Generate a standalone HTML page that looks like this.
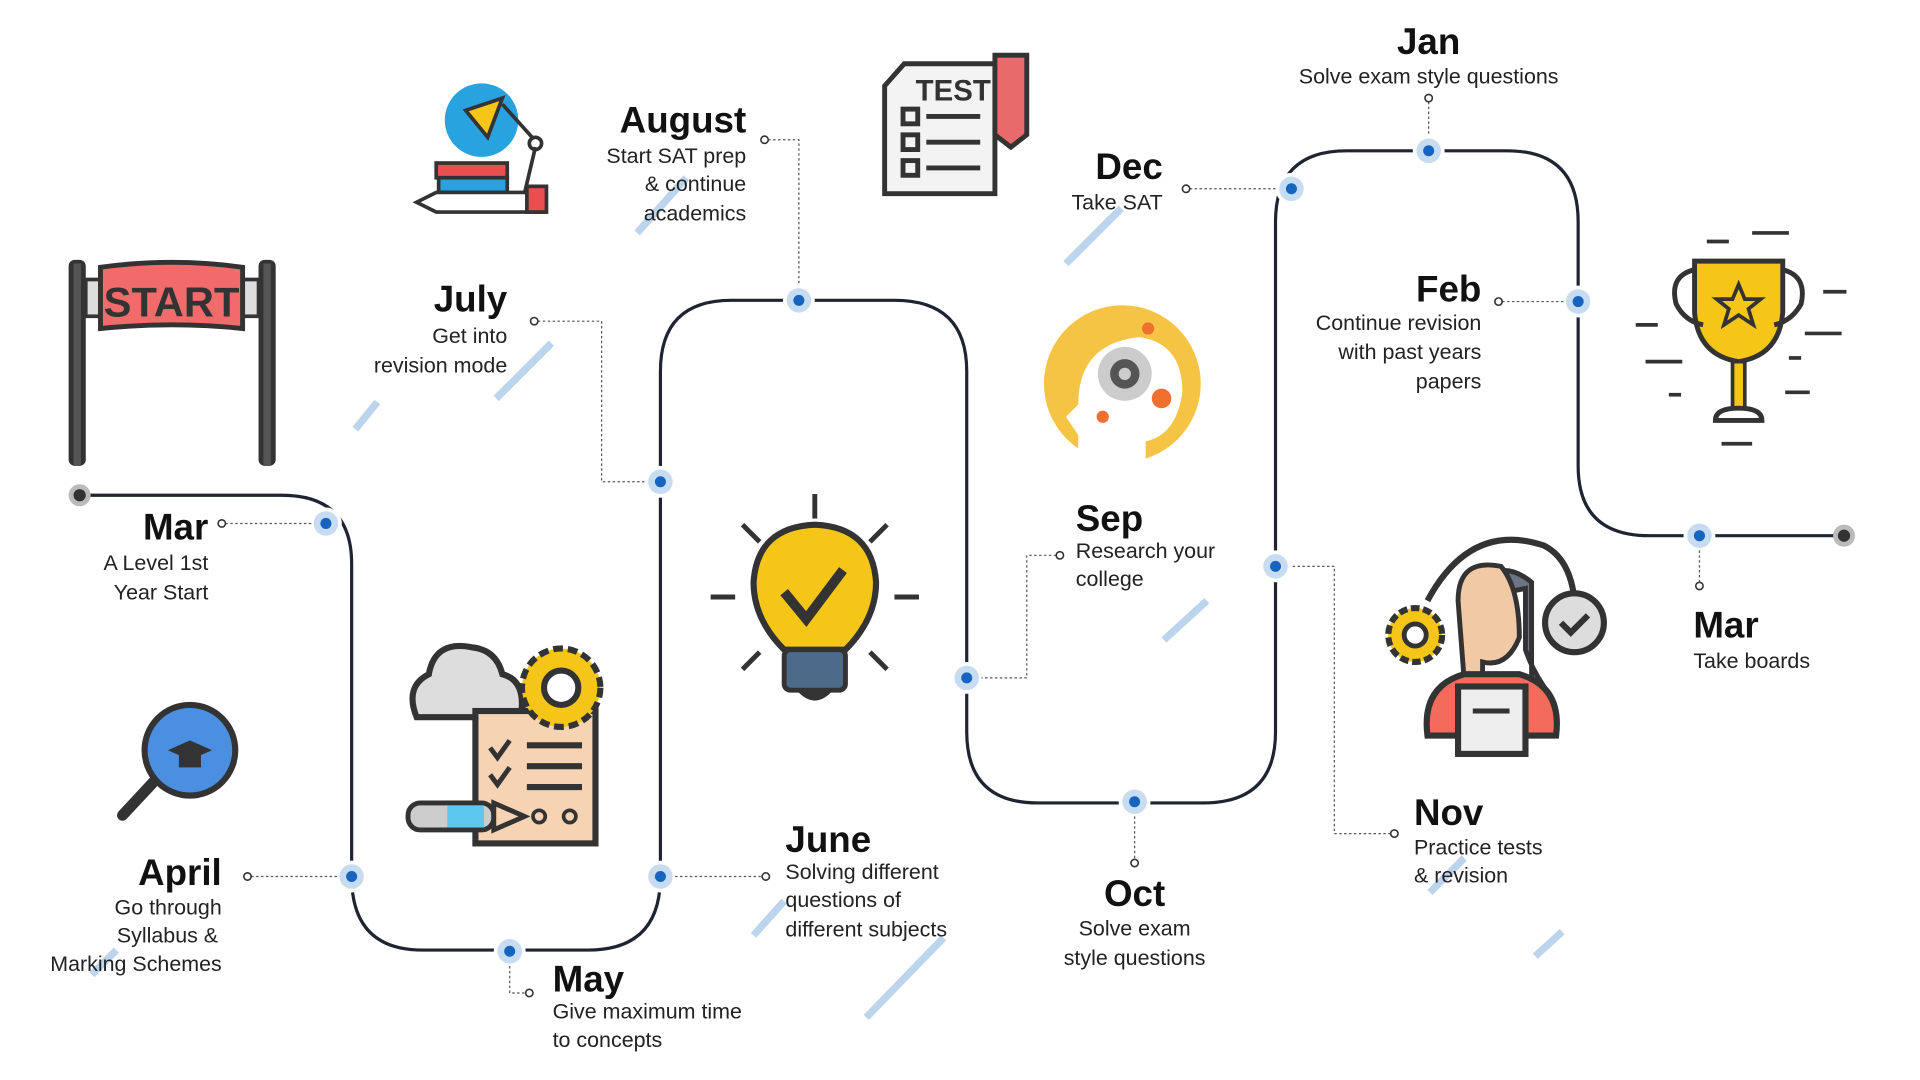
<!DOCTYPE html>
<html><head><meta charset="utf-8"><style>
html,body{margin:0;padding:0;background:#fff;width:1920px;height:1080px;overflow:hidden}
svg{display:block}
.h{font-family:"Liberation Sans",sans-serif;font-weight:bold;font-size:30px;fill:#111}
.t{font-family:"Liberation Sans",sans-serif;font-size:17.5px;fill:#222}
.d{stroke:#555;stroke-width:1;stroke-dasharray:2 2;fill:none}
.o{fill:#fff;stroke:#333;stroke-width:1.3}
.s{stroke:#bcd4ec;stroke-width:6;stroke-linecap:butt}
</style></head><body>
<svg width="1920" height="1080" viewBox="0 0 1567 881" preserveAspectRatio="none">
<g class="s">
<line x1="290" y1="350" x2="308" y2="328"/><line x1="405" y1="325" x2="450" y2="280"/>
<line x1="520" y1="190" x2="560" y2="145"/><line x1="870" y1="215" x2="915" y2="170"/>
<line x1="950" y1="522" x2="985" y2="490"/><line x1="615" y1="763" x2="640" y2="735"/>
<line x1="707" y1="830" x2="770" y2="765"/><line x1="1167" y1="728" x2="1195" y2="700"/>
<line x1="1253" y1="780" x2="1275" y2="760"/><line x1="75" y1="795" x2="95" y2="775"/>
</g>
<path d="M65,404 H230 Q287,404 287,460 V715 Q287,775 345,775 H480 Q539,775 539,715 V303 Q539,245 597,245 H730 Q789,245 789,303 V597 Q789,655 847,655 H982 Q1041,655 1041,597 V181 Q1041,123 1099,123 H1230 Q1288,123 1288,181 V380 Q1288,437 1346,437 H1505" fill="none" stroke="#1f2433" stroke-width="2.6"/>
<circle cx="65" cy="404" r="9" fill="#bbb"/><circle cx="65" cy="404" r="5" fill="#333"/>
<circle cx="1505" cy="437" r="9" fill="#bbb"/><circle cx="1505" cy="437" r="5" fill="#333"/>
<g>
<g fill="#fff"><circle cx="266" cy="427" r="13"/><circle cx="287" cy="715" r="13"/><circle cx="416" cy="776" r="13"/><circle cx="539" cy="715" r="13"/><circle cx="539" cy="393" r="13"/><circle cx="652" cy="245" r="13"/><circle cx="789" cy="553" r="13"/><circle cx="926" cy="654" r="13"/><circle cx="1041" cy="462" r="13"/><circle cx="1054" cy="154" r="13"/><circle cx="1166" cy="123" r="13"/><circle cx="1288" cy="246" r="13"/><circle cx="1387" cy="437" r="13"/></g>
<g fill="#c7dcf0"><circle cx="266" cy="427" r="10"/><circle cx="287" cy="715" r="10"/><circle cx="416" cy="776" r="10"/><circle cx="539" cy="715" r="10"/><circle cx="539" cy="393" r="10"/><circle cx="652" cy="245" r="10"/><circle cx="789" cy="553" r="10"/><circle cx="926" cy="654" r="10"/><circle cx="1041" cy="462" r="10"/><circle cx="1054" cy="154" r="10"/><circle cx="1166" cy="123" r="10"/><circle cx="1288" cy="246" r="10"/><circle cx="1387" cy="437" r="10"/></g>
<g fill="#1565c0"><circle cx="266" cy="427" r="4.5"/><circle cx="287" cy="715" r="4.5"/><circle cx="416" cy="776" r="4.5"/><circle cx="539" cy="715" r="4.5"/><circle cx="539" cy="393" r="4.5"/><circle cx="652" cy="245" r="4.5"/><circle cx="789" cy="553" r="4.5"/><circle cx="926" cy="654" r="4.5"/><circle cx="1041" cy="462" r="4.5"/><circle cx="1054" cy="154" r="4.5"/><circle cx="1166" cy="123" r="4.5"/><circle cx="1288" cy="246" r="4.5"/><circle cx="1387" cy="437" r="4.5"/></g>
</g>
<path class="d" d="M184,427 H255 M205,715 H276 M416,788 V810 H429 M551,715 H622 M439,262 H491 V393 H528 M627,114 H652 V233 M862,453 H838 V553 H801 M926,666 V701 M1135,680 H1089 V462 H1053 M971,154 H1042 M1166,83 V111 M1226,246 H1277 M1387,449 V475"/>
<g class="o"><circle cx="181" cy="427" r="3"/><circle cx="202" cy="715" r="3"/><circle cx="432" cy="810" r="3"/><circle cx="625" cy="715" r="3"/><circle cx="436" cy="262" r="3"/><circle cx="624" cy="114" r="3"/><circle cx="865" cy="453" r="3"/><circle cx="926" cy="704" r="3"/><circle cx="1138" cy="680" r="3"/><circle cx="968" cy="154" r="3"/><circle cx="1166" cy="80" r="3"/><circle cx="1223" cy="246" r="3"/><circle cx="1387" cy="478" r="3"/></g>
<text class="h" x="170" y="440" text-anchor="end">Mar</text>
<text class="t" x="170" y="465" text-anchor="end">A Level 1st</text><text class="t" x="170" y="489" text-anchor="end">Year Start</text>
<text class="h" x="181" y="722" text-anchor="end">April</text>
<text class="t" x="181" y="746" text-anchor="end">Go through</text><text class="t" x="178" y="769" text-anchor="end">Syllabus &amp;</text><text class="t" x="181" y="792" text-anchor="end">Marking Schemes</text>
<text class="h" x="451" y="809">May</text>
<text class="t" x="451" y="831">Give maximum time</text><text class="t" x="451" y="854">to concepts</text>
<text class="h" x="641" y="695">June</text>
<text class="t" x="641" y="717">Solving different</text><text class="t" x="641" y="740">questions of</text><text class="t" x="641" y="764">different subjects</text>
<text class="h" x="414" y="254" text-anchor="end">July</text>
<text class="t" x="414" y="280" text-anchor="end">Get into</text><text class="t" x="414" y="304" text-anchor="end">revision mode</text>
<text class="h" x="609" y="108" text-anchor="end">August</text>
<text class="t" x="609" y="133" text-anchor="end">Start SAT prep</text><text class="t" x="609" y="156" text-anchor="end">&amp; continue</text><text class="t" x="609" y="180" text-anchor="end">academics</text>
<text class="h" x="878" y="433">Sep</text>
<text class="t" x="878" y="455">Research your</text><text class="t" x="878" y="478">college</text>
<text class="h" x="926" y="739" text-anchor="middle">Oct</text>
<text class="t" x="926" y="763" text-anchor="middle">Solve exam</text><text class="t" x="926" y="787" text-anchor="middle">style questions</text>
<text class="h" x="1154" y="673">Nov</text>
<text class="t" x="1154" y="697">Practice tests</text><text class="t" x="1154" y="720">&amp; revision</text>
<text class="h" x="949" y="146" text-anchor="end">Dec</text>
<text class="t" x="949" y="171" text-anchor="end">Take SAT</text>
<text class="h" x="1166" y="44" text-anchor="middle">Jan</text>
<text class="t" x="1166" y="68" text-anchor="middle">Solve exam style questions</text>
<text class="h" x="1209" y="246" text-anchor="end">Feb</text>
<text class="t" x="1209" y="269" text-anchor="end">Continue revision</text><text class="t" x="1209" y="293" text-anchor="end">with past years</text><text class="t" x="1209" y="317" text-anchor="end">papers</text>
<text class="h" x="1382" y="520">Mar</text>
<text class="t" x="1382" y="545">Take boards</text>
<rect x="56" y="212" width="14" height="168" rx="5" fill="#333"/><rect x="60" y="215" width="6" height="165" fill="#555"/>
<rect x="211" y="212" width="14" height="168" rx="5" fill="#333"/><rect x="215" y="215" width="6" height="165" fill="#555"/>
<rect x="70" y="228" width="12" height="30" fill="#ddd" stroke="#333" stroke-width="3"/><rect x="198" y="228" width="13" height="30" fill="#ddd" stroke="#333" stroke-width="3"/>
<path d="M82,218 Q140,210 198,218 V268 Q140,262 82,268 Z" fill="#f26b6b" stroke="#333" stroke-width="4"/>
<text x="140" y="258" text-anchor="middle" font-family="Liberation Sans,sans-serif" font-weight="bold" font-size="34" fill="#333">START</text>
<line x1="100" y1="665" x2="128" y2="635" stroke="#333" stroke-width="9" stroke-linecap="round"/>
<circle cx="155" cy="612" r="37" fill="#4a8fe0" stroke="#333" stroke-width="5"/>
<path d="M137,612 L155,604 L173,612 L155,620 Z" fill="#333"/><rect x="146" y="614" width="18" height="12" fill="#333"/>
<path d="M340,585 Q330,560 350,550 Q355,522 385,528 Q405,530 410,550 Q430,555 425,585 Z" fill="#ddd" stroke="#333" stroke-width="5"/>
<rect x="388" y="580" width="98" height="108" fill="#f6d3b3" stroke="#333" stroke-width="5"/>
<circle cx="458" cy="561" r="32" fill="#f5c518" stroke="#333" stroke-width="5" stroke-dasharray="8 4"/><circle cx="458" cy="561" r="14" fill="#fff" stroke="#333" stroke-width="5"/>
<g stroke="#333" stroke-width="5"><line x1="430" y1="608" x2="475" y2="608"/><line x1="430" y1="625" x2="475" y2="625"/><line x1="430" y1="642" x2="475" y2="642"/></g>
<path d="M400,610 l6,8 l10,-14 M400,632 l6,8 l10,-14" stroke="#333" stroke-width="4" fill="none"/>
<rect x="333" y="655" width="70" height="22" rx="10" fill="#ccc" stroke="#333" stroke-width="4"/><rect x="365" y="657" width="30" height="18" fill="#5ec7f0"/><path d="M403,655 L428,666 L403,677 Z" fill="#f6d3b3" stroke="#333" stroke-width="4"/>
<circle cx="440" cy="666" r="5" fill="none" stroke="#333" stroke-width="3"/><circle cx="465" cy="666" r="5" fill="none" stroke="#333" stroke-width="3"/>
<circle cx="393" cy="98" r="30" fill="#28a3e0"/>
<path d="M380,90 L410,80 L398,112 Z" fill="#f5c518" stroke="#333" stroke-width="3"/>
<line x1="410" y1="85" x2="437" y2="115" stroke="#333" stroke-width="3"/><circle cx="437" cy="117" r="5" fill="#fff" stroke="#333" stroke-width="3"/><line x1="437" y1="120" x2="428" y2="158" stroke="#333" stroke-width="3"/>
<rect x="356" y="133" width="58" height="12" fill="#e94f4f" stroke="#333" stroke-width="3"/><rect x="358" y="145" width="56" height="12" fill="#28a3e0" stroke="#333" stroke-width="3"/>
<path d="M340,165 L356,157 H444 V173 H356 Z" fill="#fff" stroke="#333" stroke-width="3"/><rect x="430" y="152" width="16" height="21" fill="#e94f4f" stroke="#333" stroke-width="3"/>
<path d="M738,52 H812 V158 H722 V70 Z" fill="#f3f3f3" stroke="#333" stroke-width="4"/>
<text x="778" y="82" text-anchor="middle" font-family="Liberation Sans,sans-serif" font-weight="bold" font-size="24" fill="#333">TEST</text>
<g stroke="#333" stroke-width="4" fill="none"><rect x="737" y="89" width="12" height="12"/><rect x="737" y="110" width="12" height="12"/><rect x="737" y="131" width="12" height="12"/><line x1="756" y1="95" x2="800" y2="95"/><line x1="756" y1="116" x2="800" y2="116"/><line x1="756" y1="137" x2="800" y2="137"/></g>
<path d="M812,45 H838 V110 L825,120 L812,110 Z" fill="#e96a6a" stroke="#333" stroke-width="4"/>
<g stroke="#333" stroke-width="4"><line x1="665" y1="403" x2="665" y2="423"/><line x1="606" y1="428" x2="620" y2="442"/><line x1="724" y1="428" x2="710" y2="442"/><line x1="580" y1="487" x2="600" y2="487"/><line x1="730" y1="487" x2="750" y2="487"/><line x1="606" y1="546" x2="620" y2="532"/><line x1="724" y1="546" x2="710" y2="532"/></g>
<path d="M640,530 Q615,505 615,475 Q618,430 665,428 Q712,430 715,475 Q715,505 690,530 Z" fill="#f5c518" stroke="#333" stroke-width="5"/>
<path d="M640,483 L658,505 L688,465" stroke="#333" stroke-width="8" fill="none"/>
<rect x="640" y="530" width="50" height="33" rx="5" fill="#4c6a8a" stroke="#333" stroke-width="4"/><path d="M650,563 Q665,580 680,563" fill="#333"/>
<circle cx="916" cy="313" r="64" fill="#f6c444"/>
<path d="M880,380 V355 L870,340 L880,330 Q880,280 930,275 Q965,280 965,320 Q960,355 935,360 V380 Z" fill="#fff"/>
<circle cx="918" cy="305" r="22" fill="#ccc"/><circle cx="918" cy="305" r="12" fill="#555"/><circle cx="918" cy="305" r="5" fill="#ccc"/>
<circle cx="948" cy="325" r="8" fill="#f07030"/><circle cx="900" cy="340" r="5" fill="#f07030"/><circle cx="937" cy="268" r="5" fill="#f07030"/>
<path d="M1165,490 Q1200,425 1260,445 Q1290,460 1285,520" fill="none" stroke="#333" stroke-width="5"/>
<circle cx="1155" cy="518" r="22" fill="#f5c518" stroke="#333" stroke-width="5" stroke-dasharray="7 3"/><circle cx="1155" cy="518" r="9" fill="#fff" stroke="#333" stroke-width="4"/>
<circle cx="1285" cy="508" r="24" fill="#ddd" stroke="#333" stroke-width="5"/><path d="M1274,508 l8,8 l14,-14" stroke="#333" stroke-width="5" fill="none"/>
<path d="M1195,490 Q1220,450 1250,475 V560 H1260 Q1250,545 1245,530 V480 Z" fill="#6b7585" stroke="#333" stroke-width="4"/>
<path d="M1190,490 Q1190,455 1225,462 Q1240,480 1240,520 Q1230,545 1210,540 V555 H1195 Z" fill="#f2c9a5" stroke="#333" stroke-width="4"/>
<path d="M1165,600 Q1160,560 1195,550 H1240 Q1275,560 1270,600 Z" fill="#f26b5b" stroke="#333" stroke-width="5"/>
<rect x="1190" y="560" width="55" height="55" fill="#eee" stroke="#333" stroke-width="5"/><line x1="1202" y1="580" x2="1232" y2="580" stroke="#333" stroke-width="4"/>
<path d="M1383,213 H1455 V255 Q1452,290 1419,295 Q1386,290 1383,255 Z" fill="#f5c518" stroke="#333" stroke-width="4"/>
<path d="M1383,220 Q1362,225 1368,248 Q1375,262 1390,265 M1455,220 Q1475,225 1470,248 Q1462,262 1448,265" fill="none" stroke="#333" stroke-width="4"/>
<path d="M1419,232 l5,12 13,0 -10,8 4,13 -12,-8 -12,8 4,-13 -10,-8 13,0 z" fill="none" stroke="#333" stroke-width="3"/>
<rect x="1414" y="295" width="10" height="38" fill="#f5c518" stroke="#333" stroke-width="3"/><path d="M1400,343 Q1400,333 1419,333 Q1438,333 1438,343 Z" fill="#fff" stroke="#333" stroke-width="4"/>
<g stroke="#333" stroke-width="3"><line x1="1393" y1="197" x2="1411" y2="197"/><line x1="1430" y1="190" x2="1460" y2="190"/><line x1="1488" y1="238" x2="1507" y2="238"/><line x1="1335" y1="265" x2="1353" y2="265"/><line x1="1473" y1="272" x2="1503" y2="272"/><line x1="1343" y1="295" x2="1373" y2="295"/><line x1="1460" y1="292" x2="1470" y2="292"/><line x1="1362" y1="322" x2="1372" y2="322"/><line x1="1457" y1="320" x2="1477" y2="320"/><line x1="1405" y1="362" x2="1430" y2="362"/></g>
</svg>
</body></html>
